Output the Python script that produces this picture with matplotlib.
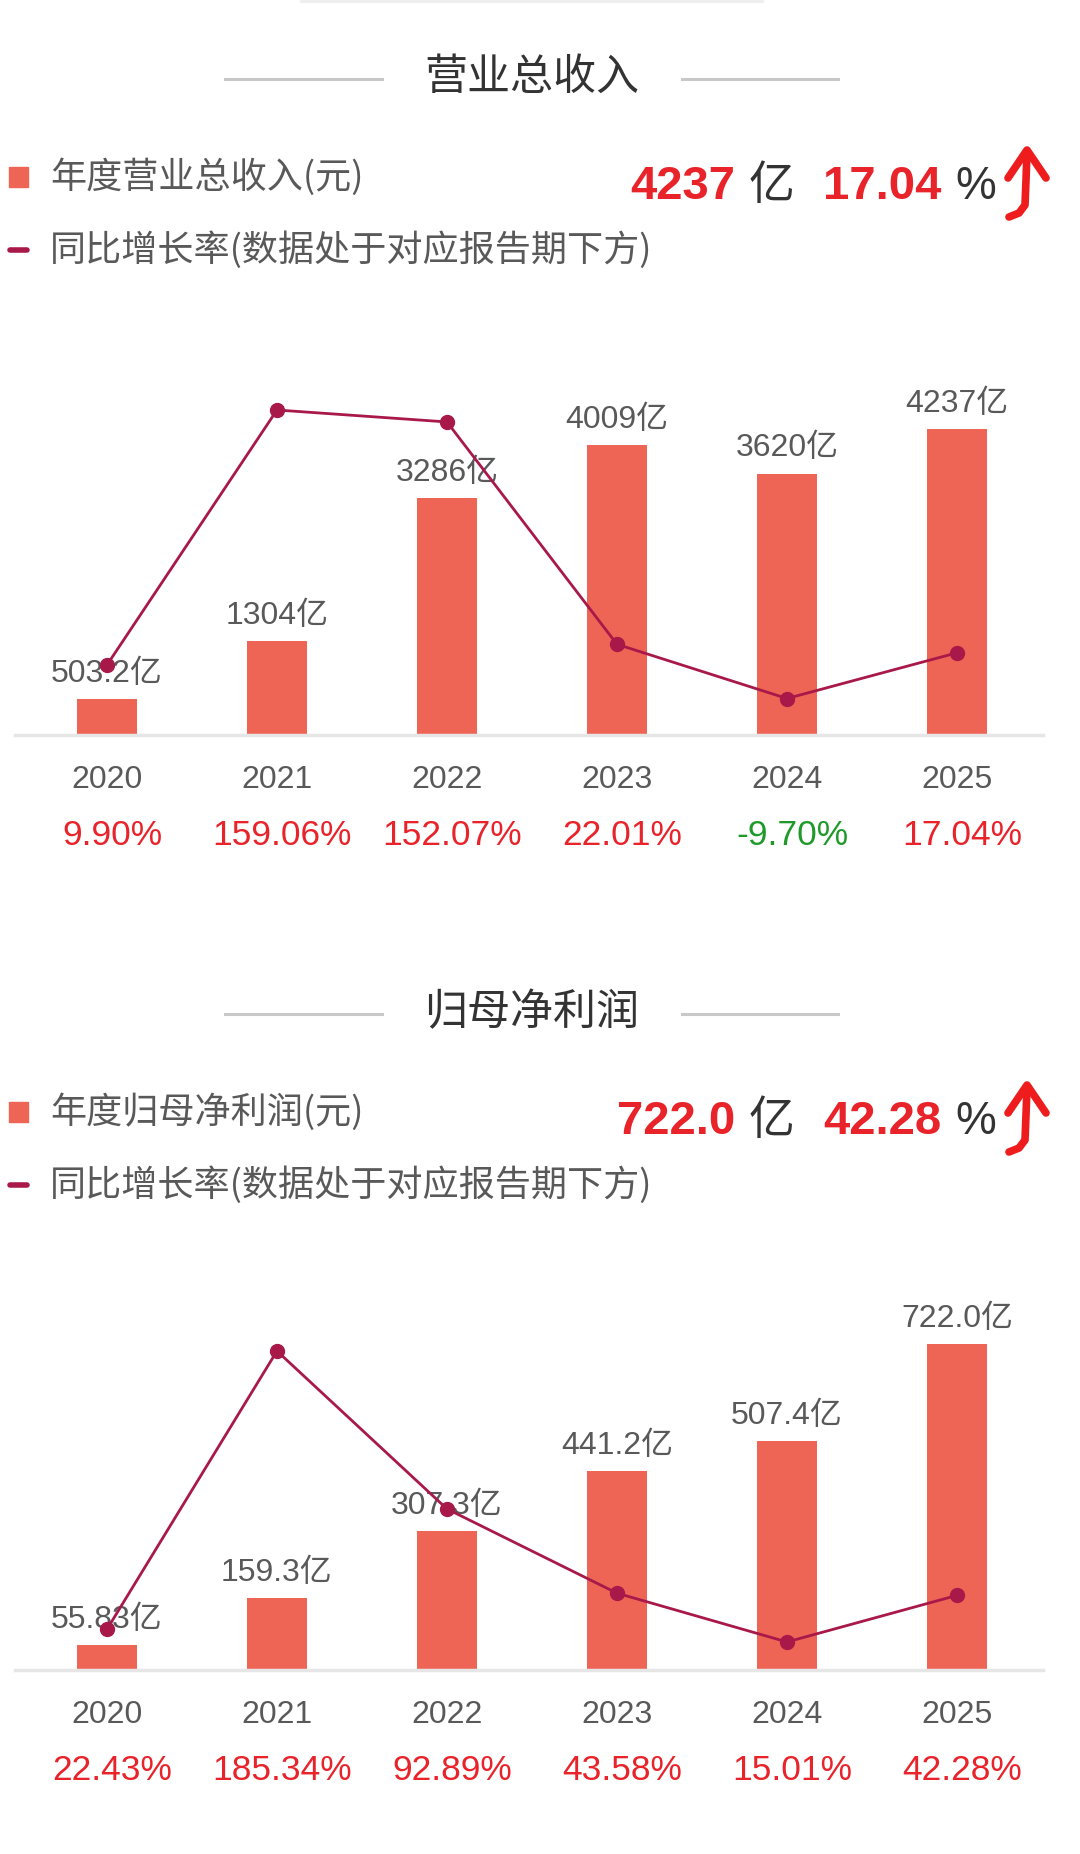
import matplotlib
matplotlib.use("Agg")
import matplotlib.pyplot as plt
from matplotlib.patches import Rectangle
import numpy as np

plt.rcParams['font.family'] = ['Liberation Sans', 'Noto Sans CJK SC', 'DejaVu Sans']

years = ['2020', '2021', '2022', '2023', '2024', '2025']

revenue = [503.2, 1304, 3286, 4009, 3620, 4237]
revenue_labels = ['503.2亿', '1304亿', '3286亿', '4009亿', '3620亿', '4237亿']
revenue_yoy = [9.90, 159.06, 152.07, 22.01, -9.70, 17.04]

profit = [55.83, 159.3, 307.3, 441.2, 507.4, 722.0]
profit_labels = ['55.83亿', '159.3亿', '307.3亿', '441.2亿', '507.4亿', '722.0亿']
profit_yoy = [22.43, 185.34, 92.89, 43.58, 15.01, 42.28]

BAR = '#ee6455'
LINE = '#a8194a'
RED = '#e8232a'
GREEN = '#1f9a2a'
GREY = '#595959'
DARK = '#333333'
CJK = ['Noto Sans CJK SC']

W, H = 1080, 1854
fig = plt.figure(figsize=(W / 100, H / 100), dpi=100)
fig.patch.set_facecolor('white')

# overlay in pixel coords for titles / legends / headline
ov = fig.add_axes([0, 0, 1, 1])
ov.set_xlim(0, W)
ov.set_ylim(H, 0)
ov.axis('off')
ov.plot([301, 762], [1, 1], color='#eeeeee', lw=2)


def panel(dy, title, legend1, values, labels, yoy, head_val, head_x, head_pct, bar_max, yoy_lim):
    # title with side rules
    ov.text(532, 78 + dy, title, ha='center', va='center', fontsize=31,
            color=DARK, family=CJK)
    ov.plot([225, 382], [79 + dy, 79 + dy], color='#c8c8c8', lw=2.2)
    ov.plot([682, 838], [79 + dy, 79 + dy], color='#c8c8c8', lw=2.2)

    # legend
    ov.add_patch(Rectangle((9, 167 + dy), 19, 20, color=BAR))
    ov.text(50, 177 + dy, legend1, ha='left', va='center', fontsize=26,
            color=GREY, family=CJK)
    ov.plot([10, 27], [250 + dy, 250 + dy], color=LINE, lw=4, solid_capstyle='round')
    ov.text(50, 250 + dy, '同比增长率(数据处于对应报告期下方)', ha='left', va='center',
            fontsize=26, color=GREY, family=CJK)

    # headline
    yb = 199 + dy
    ov.text(head_x, yb, head_val, ha='left', va='baseline',
            fontsize=34, color=RED, fontweight='bold')
    ov.text(749, yb, '亿', ha='left', va='baseline', fontsize=33, color=DARK,
            family=CJK)
    ov.text(823, yb, head_pct, ha='left', va='baseline', fontsize=34, color=RED,
            fontweight='bold')
    ov.text(955, yb, '%', ha='left', va='baseline', fontsize=33, color=DARK)
    # hand drawn up arrow
    ov.plot([1009, 1019, 1025, 1026, 1027], np.array([217, 213, 205, 180, 152]) + dy,
            color='#ee1c1c', lw=5.5, solid_capstyle='round', solid_joinstyle='round')
    ov.plot([1008, 1027, 1046], np.array([178, 150, 178]) + dy,
            color='#ee1c1c', lw=5.5, solid_capstyle='round', solid_joinstyle='round')

    # chart
    base = 735 + dy
    top = 390 + dy
    ax = fig.add_axes([15 / W, 1 - base / H, 1028 / W, (base - top) / H])
    x = np.arange(len(years))
    ax.bar(x, values, width=0.353, color=BAR, zorder=2)
    ax.set_xlim(-0.541, 5.506)
    ax.set_ylim(0, bar_max)
    for s in ['top', 'right', 'left']:
        ax.spines[s].set_visible(False)
    ax.spines['bottom'].set_color('#e6e6e6')
    ax.spines['bottom'].set_linewidth(2.5)
    ax.set_yticks([])
    ax.set_xticks([])
    for i, v in enumerate(values):
        ax.annotate(labels[i], (i, v), xytext=(0, 12.3), textcoords='offset points',
                    ha='center', va='baseline', fontsize=23, color=GREY)
        ax.annotate(years[i], (i, 0), xytext=(0, -38), textcoords='offset points',
                    ha='center', va='baseline', fontsize=23, color=GREY,
                    annotation_clip=False)
        ax.annotate('%.2f%%' % yoy[i], (i, 0), xytext=(3.6, -79), textcoords='offset points',
                    ha='center', va='baseline', fontsize=25.5,
                    color=GREEN if yoy[i] < 0 else RED, annotation_clip=False)

    ax2 = ax.twinx()
    ax2.plot(x, yoy, color=LINE, lw=2, marker='o', markersize=10, zorder=3)
    ax2.set_ylim(*yoy_lim)
    ax2.axis('off')


panel(0, '营业总收入', '年度营业总收入(元)', revenue, revenue_labels, revenue_yoy,
      '4237', 630, '17.04', 4777, (-31.05, 170.76))
panel(935, '归母净利润', '年度归母净利润(元)', profit, profit_labels, profit_yoy,
      '722.0', 617, '42.28', 764, (-1.4, 200.56))

fig.savefig('out.png', dpi=100, facecolor='white')
